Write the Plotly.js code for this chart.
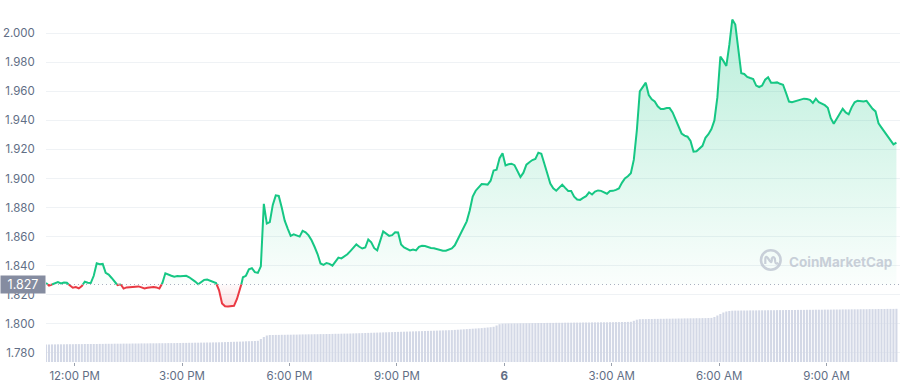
<!DOCTYPE html>
<html>
<head>
<meta charset="utf-8">
<script src="https://cdn.plot.ly/plotly-3.0.1.min.js"></script>
<style>
html,body{margin:0;padding:0;background:#fff;}
#chart{width:900px;height:388px;}
</style>
</head>
<body>
<div id="chart"></div>
<script>
// ---- data ----
const startTime = '2022-03-05T11:12:00Z';   // first sample
const stepMinutes = 5;                      // sampling interval
const openPrice = 1.827;                    // 24h open (baseline)

const price = [
1.8280,1.8263,1.8270,1.8278,1.8286,1.8278,1.8284,1.8282,1.8262,1.8248,
1.8252,1.8243,1.8260,1.8289,1.8282,1.8280,1.8330,1.8416,1.8410,1.8412,
1.8350,1.8338,1.8315,1.8285,1.8266,1.8272,1.8242,1.8250,1.8253,1.8255,
1.8256,1.8257,1.8250,1.8243,1.8247,1.8250,1.8253,1.8250,1.8242,1.8280,
1.8347,1.8337,1.8330,1.8324,1.8328,1.8326,1.8327,1.8330,1.8320,1.8308,
1.8290,1.8272,1.8285,1.8302,1.8304,1.8296,1.8284,1.8280,1.8230,1.8140,
1.8120,1.8118,1.8120,1.8123,1.8170,1.8230,1.8320,1.8330,1.8375,1.8382,
1.8355,1.8350,1.8395,1.8825,1.8690,1.8700,1.8818,1.8884,1.8880,1.8800,
1.8710,1.8655,1.8605,1.8615,1.8605,1.8600,1.8640,1.8630,1.8608,1.8575,
1.8530,1.8480,1.8415,1.8405,1.8418,1.8412,1.8400,1.8430,1.8455,1.8450,
1.8462,1.8478,1.8500,1.8520,1.8546,1.8530,1.8518,1.8525,1.8580,1.8560,
1.8520,1.8505,1.8565,1.8635,1.8620,1.8605,1.8610,1.8629,1.8628,1.8545,
1.8525,1.8515,1.8505,1.8510,1.8505,1.8530,1.8537,1.8535,1.8528,1.8522,
1.8520,1.8515,1.8509,1.8502,1.8503,1.8510,1.8519,1.8540,1.8582,1.8620,
1.8655,1.8705,1.8780,1.8875,1.8916,1.8940,1.8962,1.8960,1.8958,1.8985,
1.9055,1.9060,1.9140,1.9174,1.9090,1.9098,1.9102,1.9092,1.9055,1.9010,
1.9040,1.9095,1.9112,1.9127,1.9135,1.9178,1.9170,1.9110,1.9035,1.8965,
1.8933,1.8916,1.8938,1.8958,1.8935,1.8914,1.8914,1.8875,1.8855,1.8853,
1.8867,1.8878,1.8905,1.8890,1.8910,1.8918,1.8915,1.8905,1.8895,1.8914,
1.8915,1.8922,1.8932,1.8970,1.9000,1.9015,1.9036,1.9130,1.9330,1.9600,
1.9630,1.9660,1.9575,1.9545,1.9530,1.9497,1.9479,1.9479,1.9485,1.9485,
1.9455,1.9405,1.9352,1.9310,1.9295,1.9288,1.9258,1.9185,1.9188,1.9205,
1.9225,1.9280,1.9305,1.9340,1.9400,1.9560,1.9840,1.9810,1.9775,1.9920,
2.0095,2.0060,1.9908,1.9725,1.9720,1.9700,1.9692,1.9685,1.9640,1.9630,
1.9640,1.9680,1.9697,1.9660,1.9660,1.9662,1.9652,1.9646,1.9590,1.9530,
1.9525,1.9530,1.9535,1.9540,1.9550,1.9548,1.9542,1.9520,1.9550,1.9525,
1.9515,1.9505,1.9487,1.9415,1.9377,1.9410,1.9440,1.9480,1.9455,1.9442,
1.9490,1.9525,1.9536,1.9534,1.9530,1.9535,1.9505,1.9480,1.9462,1.9380,
1.9350,1.9322,1.9290,1.9258,1.9235,1.9247
];

// 24h volume (millions, estimated)
const volume = [
17.5,17.5,17.6,17.6,17.7,17.7,17.7,17.8,17.8,17.8,17.9,17.9,17.9,18.0,18.0,18.0,18.0,18.0,
18.1,18.1,18.2,18.2,18.2,18.3,18.3,18.3,18.4,18.4,18.4,18.5,18.5,18.5,18.6,18.6,18.6,18.7,18.7,18.7,18.8,18.8,18.8,18.9,18.9,18.9,19.0,19.0,
19.1,19.1,19.2,19.2,19.3,19.3,19.4,19.4,19.5,19.5,19.6,19.6,19.7,19.8,19.9,20.0,20.1,20.2,20.3,20.4,20.5,
20.7,20.8,20.9,21.0,21.2,
23.0,25.0,26.5,
27.0,27.0,27.1,27.1,27.2,27.2,27.3,27.3,27.4,27.4,27.5,
27.6,27.6,27.7,27.7,27.8,27.8,27.9,27.9,28.0,28.0,28.1,28.2,28.2,28.3,28.4,28.4,28.5,28.6,28.7,28.8,28.9,29.0,29.1,29.2,29.3,29.4,29.5,
29.6,29.7,29.8,29.9,30.0,30.1,30.2,30.3,30.4,30.5,30.6,30.7,30.8,30.9,31.0,31.1,31.2,31.3,31.4,31.5,31.6,31.7,31.8,31.9,32.1,32.3,
32.5,32.7,32.9,33.1,33.3,33.5,33.7,33.9,34.2,34.5,34.8,35.2,
36.5,37.8,38.3,
38.4,38.5,38.5,38.6,38.6,38.7,38.7,38.8,38.8,38.9,38.9,39.0,39.0,39.0,39.1,39.1,39.1,39.2,39.2,39.2,39.3,39.3,39.3,39.4,39.4,39.4,39.5,39.5,39.5,39.6,39.6,39.6,39.7,39.7,39.7,39.8,39.8,39.9,39.9,40.0,40.0,40.1,40.2,
41.2,42.3,
42.8,42.9,42.9,43.0,43.0,43.1,43.1,43.2,43.2,43.3,43.3,43.4,43.4,43.5,43.5,43.6,43.6,43.7,43.7,43.8,43.8,43.9,43.9,44.0,44.1,
45.0,46.5,48.0,49.5,50.5,51.0,51.3,
51.4,51.4,51.5,51.5,51.5,51.6,51.6,51.6,51.7,51.7,51.7,51.8,51.8,51.8,51.9,51.9,51.9,52.0,52.0,52.0,
52.0,52.1,52.1,52.1,52.2,52.2,52.2,52.3,52.3,52.3,52.4,52.4,52.4,52.5,52.5,52.5,52.6,52.6,52.6,52.7,52.7,52.7,52.8,52.8,52.8,52.9,52.9,52.9,53.0,53.0,53.0,53.1,53.1,53.1,53.2
];

const xTickVals = ['2022-03-05 12:00','2022-03-05 15:00','2022-03-05 18:00','2022-03-05 21:00',
                   '2022-03-06 00:00','2022-03-06 03:00','2022-03-06 06:00','2022-03-06 09:00'];
const xTickText = ['12:00 PM','3:00 PM','6:00 PM','9:00 PM','<b>6</b>','3:00 AM','6:00 AM','9:00 AM'];
const yTickVals = [1.78,1.80,1.82,1.84,1.86,1.88,1.90,1.92,1.94,1.96,1.98,2.00];

// ---- build ----
const pad = n => String(n).padStart(2,'0');
function fmt(ms){
  const d = new Date(ms);
  return d.getUTCFullYear()+'-'+pad(d.getUTCMonth()+1)+'-'+pad(d.getUTCDate())+' '+
         pad(d.getUTCHours())+':'+pad(d.getUTCMinutes())+':'+pad(d.getUTCSeconds())+'.'+
         String(d.getUTCMilliseconds()).padStart(3,'0');
}
const t0 = Date.parse(startTime);
const tms = price.map((_,i)=> t0 + i*stepMinutes*60000);
const vx = volume.map((_,i)=> fmt(t0 + i*stepMinutes*60000));

// split where the line crosses the open price
const ax=[], ay=[];
for (let i=0;i<price.length;i++){
  ax.push(tms[i]); ay.push(price[i]);
  if (i<price.length-1 && (price[i]-openPrice)*(price[i+1]-openPrice)<0){
    const f=(openPrice-price[i])/(price[i+1]-price[i]);
    ax.push(tms[i]+f*(tms[i+1]-tms[i])); ay.push(openPrice);
  }
}
const X = ax.map(fmt);
const base = ay.map(()=>openPrice);
const upY = ay.map(v=>Math.max(v,openPrice));
const dnY = ay.map(v=>Math.min(v,openPrice));
const gY = ay.map(v=> v>=openPrice ? v : null);
const rY = ay.map(v=> v<=openPrice ? v : null);

const GREEN='#16c784', RED='#ea3943';
const traces = [
  {type:'bar', x:vx, y:volume, yaxis:'y2', marker:{color:'#d3d8e6', line:{width:0}}, hoverinfo:'skip'},
  {type:'scatter', mode:'lines', x:X, y:base, line:{width:0}, hoverinfo:'skip'},
  {type:'scatter', mode:'lines', x:X, y:upY, line:{width:0}, fill:'tonexty',
   fillgradient:{type:'vertical', start:openPrice, stop:2.01,
     colorscale:[[0,'rgba(22,199,132,0.02)'],[1,'rgba(22,199,132,0.30)']]}, hoverinfo:'skip'},
  {type:'scatter', mode:'lines', x:X, y:base, line:{width:0}, hoverinfo:'skip'},
  {type:'scatter', mode:'lines', x:X, y:dnY, line:{width:0}, fill:'tonexty',
   fillgradient:{type:'vertical', start:openPrice, stop:1.805,
     colorscale:[[0,'rgba(234,57,67,0.02)'],[1,'rgba(234,57,67,0.22)']]}, hoverinfo:'skip'},
  {type:'scatter', mode:'lines', x:X, y:gY, line:{color:GREEN, width:2}, hoverinfo:'skip'},
  {type:'scatter', mode:'lines', x:X, y:rY, line:{color:RED, width:2}, hoverinfo:'skip'}
];

// plot area: x 46..900, y 0..362
const px = p => (p-46)/854, py = p => (362-p)/362;
const layout = {
  width:900, height:388,
  margin:{l:46, r:0, t:0, b:26, pad:0},
  paper_bgcolor:'#ffffff', plot_bgcolor:'#ffffff',
  showlegend:false, bargap:0.3,
  font:{family:'Inter, "Noto Sans", sans-serif', size:11, color:'#616e85'},
  xaxis:{type:'date', range:['2022-03-05 11:12','2022-03-06 11:03'],
    tickvals:xTickVals, ticktext:xTickText, showgrid:false, zeroline:false, showline:false,
    ticks:'outside', ticklen:3, tickcolor:'#9aa1ad', tickwidth:1,
    tickfont:{size:11.5, color:'#616e85'}},
  yaxis:{range:[1.77363, 2.02293], tickvals:yTickVals, tickformat:'.3f',
    showgrid:true, gridcolor:'#eff2f5', gridwidth:1, zeroline:false, showline:false,
    ticks:'outside', ticklen:8, tickcolor:'rgba(0,0,0,0)',
    tickfont:{size:11.5, color:'#616e85'}},
  yaxis2:{overlaying:'y', range:[0,362], visible:false, showgrid:false},
  shapes:[
    {type:'line', xref:'paper', x0:0, x1:1, yref:'y', y0:openPrice, y1:openPrice,
     line:{color:'#a9b0bf', width:1, dash:'1px,3px'}},
    {type:'circle', xref:'paper', yref:'paper', xsizemode:'pixel', ysizemode:'pixel',
     xanchor:px(770.8), yanchor:py(260), x0:-9.8, x1:9.8, y0:-9.8, y1:9.8,
     line:{color:'rgba(185,192,205,0.75)', width:2.6}, layer:'above'},
    {type:'path', xref:'paper', yref:'paper', xsizemode:'pixel', ysizemode:'pixel',
     xanchor:px(770.8), yanchor:py(260),
     path:'M -5.5 -4 L -5.5 1 Q -5.5 4.5 -3 2 L -0.5 -1.5 Q 0.5 -3 1 -0.5 L 1 1.5 Q 2.5 4.5 4 1.5 L 4.5 -2 Q 5 -4.5 7.5 -3',
     line:{color:'rgba(185,192,205,0.75)', width:2.2}, layer:'above'}
  ],
  annotations:[
    {xref:'paper', yref:'y', x:0, y:openPrice, xanchor:'right', yanchor:'middle',
     text:'1.827', showarrow:false, bgcolor:'#858ca0', width:42, height:15, borderpad:1,
     font:{size:12.5, color:'#ffffff'}, align:'center'},
    {xref:'paper', yref:'paper', x:px(787), y:py(261.5), xanchor:'left', yanchor:'middle',
     text:'<b>CoinMarketCap</b>', showarrow:false,
     font:{size:13.5, color:'rgba(185,192,205,0.75)'}}
  ]
};
Plotly.newPlot('chart', traces, layout, {staticPlot:true, displayModeBar:false});
</script>
</body>
</html>
